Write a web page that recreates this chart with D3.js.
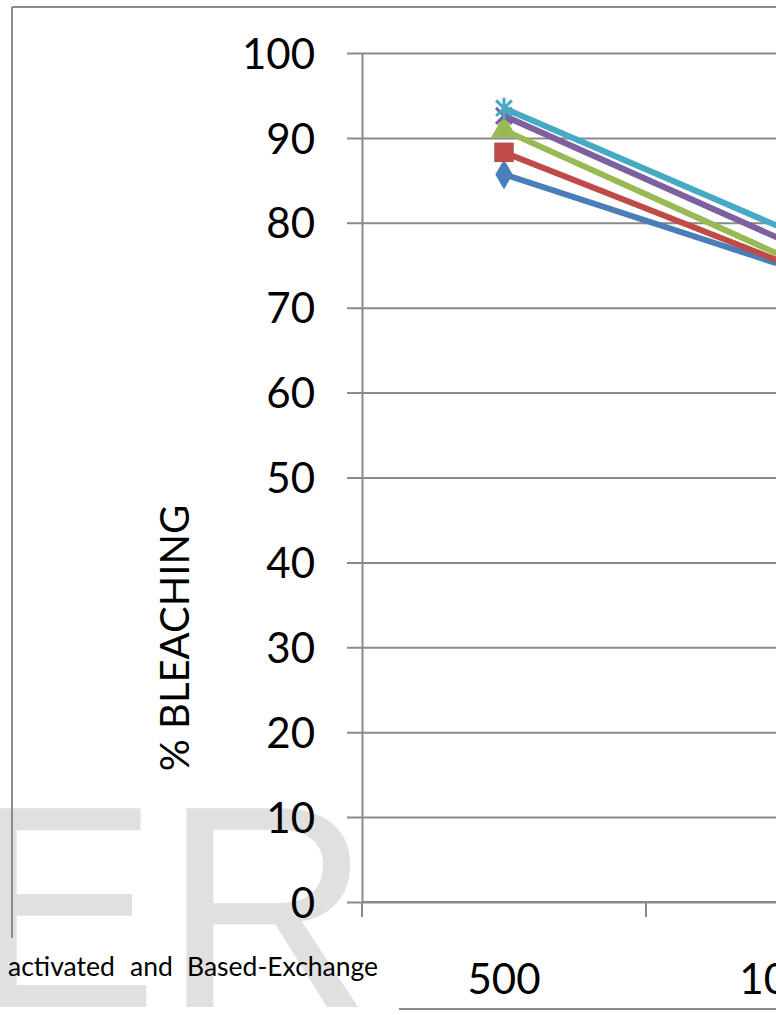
<!DOCTYPE html>
<html>
<head>
<meta charset="utf-8">
<script src="https://cdn.jsdelivr.net/npm/d3@7"></script>
<style>
  html, body { margin: 0; padding: 0; background: #fff; overflow: hidden; }
  svg { display: block; }
</style>
</head>
<body>
<svg id="chart" width="776" height="1015"></svg>
<script>
// ---- data ----
const categories = ["500", "1000"];
const yTicks = [0, 10, 20, 30, 40, 50, 60, 70, 80, 90, 100];
const seriesBlue   = [85.7, 74.8];
const seriesRed    = [88.3, 75.1];
const seriesGreen  = [90.9, 75.8];
const seriesPurple = [92.6, 77.7];
const seriesCyan   = [93.5, 79.1];
const yAxisTitle = "% BLEACHING";
const captionWords = ["activated", "and", "Based-Exchange"];
const watermarkText = "ER";

// ---- styling ----
const colors = ["#4A7EBB", "#BE4B48", "#98B954", "#7D60A0", "#46AAC5"];
const gridColor = "#8a8a8a";
const font = "Lato, 'Open Sans', sans-serif";

const svg = d3.select("#chart");

const plotLeft = 362, plotTop = 53, plotBottom = 902, band = 284;
const x = d3.scaleBand().domain(categories).range([plotLeft, plotLeft + band * categories.length]).padding(0);
const y = d3.scaleLinear().domain([0, 100]).range([plotBottom, plotTop]);

// watermark
svg.append("text")
  .attr("x", -34).attr("y", 1007)
  .attr("font-family", "'Liberation Sans', Arial, sans-serif")
  .attr("font-size", 289)
  .attr("letter-spacing", 4)
  .attr("fill", "#e0e0e0")
  .text(watermarkText);

// frame
svg.append("line").attr("x1", 12).attr("x2", 776).attr("y1", 7).attr("y2", 7)
  .attr("stroke", gridColor).attr("stroke-width", 2);
svg.append("line").attr("x1", 12).attr("x2", 12).attr("y1", 7).attr("y2", 938)
  .attr("stroke", gridColor).attr("stroke-width", 2);
svg.append("line").attr("x1", 399).attr("x2", 776).attr("y1", 1009).attr("y2", 1009)
  .attr("stroke", gridColor).attr("stroke-width", 2);

// gridlines + y axis ticks
const plotRight = x.range()[1];
const yAxis = d3.axisLeft(y).tickValues(yTicks).tickSizeInner(15).tickSizeOuter(0).tickPadding(32);
const gy = svg.append("g").attr("transform", `translate(${plotLeft},0)`).call(yAxis);
gy.select(".domain").attr("stroke", gridColor).attr("stroke-width", 2);
gy.selectAll(".tick line").attr("stroke", gridColor).attr("stroke-width", 2)
  .attr("x1", plotRight - plotLeft);
gy.selectAll(".tick text").attr("font-family", font).attr("font-size", 42).attr("fill", "#000")
  .attr("dy", "0.36em");

// x axis
const gx = svg.append("g");
gx.append("line").attr("x1", plotLeft).attr("x2", plotRight).attr("y1", plotBottom).attr("y2", plotBottom)
  .attr("stroke", gridColor).attr("stroke-width", 2);
const bounds = categories.map(c => x(c)).concat([plotRight]);
gx.selectAll("line.tk").data(bounds).join("line").attr("class", "tk")
  .attr("x1", d => d).attr("x2", d => d).attr("y1", plotBottom).attr("y2", plotBottom + 15)
  .attr("stroke", gridColor).attr("stroke-width", 2);
gx.selectAll("text").data(categories).join("text")
  .attr("x", d => x(d) + x.bandwidth() / 2).attr("y", 994)
  .attr("text-anchor", "middle")
  .attr("font-family", font).attr("font-size", 42).attr("fill", "#000")
  .text(d => d);

// y axis title
svg.append("text")
  .attr("transform", "translate(189,638) rotate(-90)")
  .attr("text-anchor", "middle")
  .attr("font-family", font).attr("font-size", 40).attr("fill", "#000")
  .text(yAxisTitle);

// caption
const captionX = [8, 130, 187];
svg.selectAll("text.cap").data(captionWords).join("text").attr("class", "cap")
  .attr("x", (d, i) => captionX[i]).attr("y", 976)
  .attr("font-family", font).attr("font-size", 26.5).attr("fill", "#000")
  .text(d => d);

// markers
const starSymbol = {
  draw(ctx, size) {
    const r = Math.sqrt(size) / 2;
    ctx.moveTo(0, -r); ctx.lineTo(0, r);
    const d = r * 0.75;
    ctx.moveTo(-d, -d); ctx.lineTo(d, d);
    ctx.moveTo(-d, d); ctx.lineTo(d, -d);
  }
};
const xSymbol = {
  draw(ctx, size) {
    const r = Math.sqrt(size) / 2;
    ctx.moveTo(-r, -r); ctx.lineTo(r, r);
    ctx.moveTo(-r, r); ctx.lineTo(r, -r);
  }
};
const allSeries = [seriesBlue, seriesRed, seriesGreen, seriesPurple, seriesCyan];
const markerDefs = [
  { type: d3.symbolDiamond, size: 260, fill: true },
  { type: d3.symbolSquare, size: 380, fill: true },
  { type: d3.symbolTriangle, size: 300, fill: true },
  { type: xSymbol, size: 256, fill: false },
  { type: starSymbol, size: 440, fill: false }
];

const line = d3.line().x((d, i) => x(categories[i]) + x.bandwidth() / 2).y(d => y(d));

allSeries.forEach((vals, si) => {
  const g = svg.append("g");
  g.append("path").datum(vals).attr("d", line)
    .attr("fill", "none").attr("stroke", colors[si]).attr("stroke-width", 6)
    .attr("stroke-linejoin", "round");
  const m = markerDefs[si];
  g.selectAll("path.mk").data(vals).join("path").attr("class", "mk")
    .attr("transform", (d, i) => `translate(${x(categories[i]) + x.bandwidth() / 2},${y(d)})`)
    .attr("d", d3.symbol().type(m.type).size(m.size))
    .attr("fill", m.fill ? colors[si] : "none")
    .attr("stroke", colors[si])
    .attr("stroke-width", m.fill ? 0 : 3);
});
</script>
</body>
</html>
